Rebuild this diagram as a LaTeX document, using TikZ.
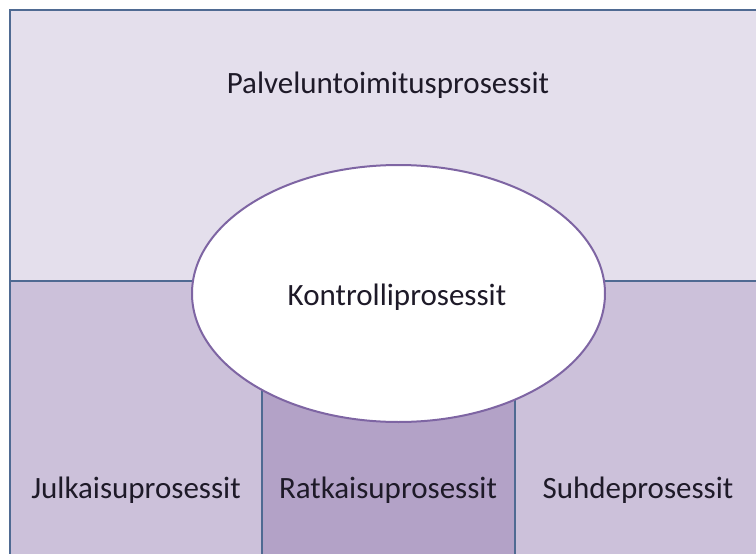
\documentclass[tikz,border=0pt]{standalone}
\usepackage{fontspec}
\setmainfont{Carlito}
\usetikzlibrary{shapes.geometric}
\definecolor{topfill}{HTML}{E4DFEC}
\definecolor{sidefill}{HTML}{CCC1DA}
\definecolor{midfill}{HTML}{B3A2C7}
\definecolor{edgeblue}{HTML}{4F6A92}
\definecolor{ringpurple}{HTML}{7E65A3}
\definecolor{inktext}{HTML}{1E1A28}
\tikzset{
  area/.style={draw=edgeblue, line width=2.2pt},
  label/.style={text=inktext, font=\fontsize{31}{36}\selectfont, inner sep=0pt},
}
\begin{document}
\begin{tikzpicture}[x=1pt,y=-1pt]
\useasboundingbox (0,0) rectangle (756,554);
\fill[white] (0,0) rectangle (756,554);
% process areas
\fill[topfill] (10,10) rectangle (760,281);
\fill[sidefill] (10,281) rectangle (262,560);
\fill[midfill] (262,281) rectangle (515,560);
\fill[sidefill] (515,281) rectangle (760,560);
\draw[area] (10,560) -- (10,10) -- (760,10);
\draw[area] (10,281) -- (760,281);
\draw[area] (262,281) -- (262,560);
\draw[area] (515,281) -- (515,560);
% control process ellipse
\node[ellipse, draw=ringpurple, line width=2pt, fill=white,
      minimum width=413pt, minimum height=257pt, inner sep=0pt]
      (ctrl) at (398.5,293.5) {};
\node[label] (service) at (388,85) {Palveluntoimitusprosessit};
\node[label] (control) at (397,297) {Kontrolliprosessit};
\node[label] (release) at (136,490) {Julkaisuprosessit};
\node[label] (resolve) at (388,490) {Ratkaisuprosessit};
\node[label] (relation) at (638,490) {Suhdeprosessit};
\end{tikzpicture}
\end{document}
